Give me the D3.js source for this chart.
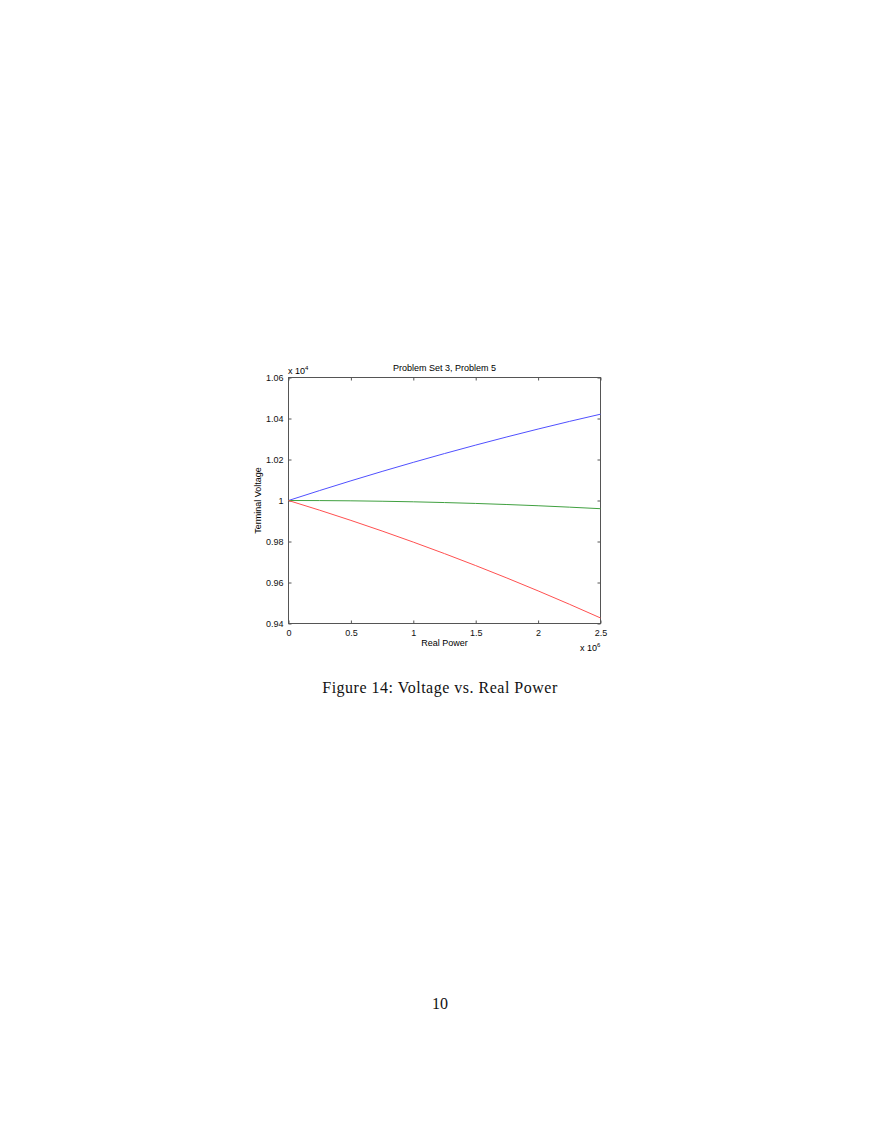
<!DOCTYPE html>
<html>
<head>
<meta charset="utf-8">
<script src="https://cdn.jsdelivr.net/npm/d3@7"></script>
<style>
body { margin: 0; background: #fff; }
svg { display: block; }
</style>
</head>
<body>
<script>
// Data (x in units of 1e6, y in units of 1e4)
const realPower = [0, 0.25, 0.5, 0.75, 1, 1.25, 1.5, 1.75, 2, 2.25, 2.5];
const blueVoltage  = [1, 1.00487, 1.0096, 1.01418, 1.01861, 1.0229, 1.02703, 1.03102, 1.03486, 1.03856, 1.0421];
const greenVoltage = [1, 0.99996, 0.99984, 0.99964, 0.99936, 0.999, 0.99856, 0.99804, 0.99744, 0.99676, 0.996];
const redVoltage   = [1, 0.99526, 0.99029, 0.98511, 0.97971, 0.97409, 0.96825, 0.96219, 0.95591, 0.94942, 0.9427];
const xTicks = [0, 0.5, 1, 1.5, 2, 2.5];
const yTicks = [0.94, 0.96, 0.98, 1, 1.02, 1.04, 1.06];
const seriesNames = ["blue", "green", "red"];
const seriesColors = ["#5050ff", "#40a040", "#ff5050"];

(function () {
const W = 880, H = 1139;
const svg = d3.select("body").append("svg").attr("width", W).attr("height", H);

const mLeft = 288.5, mRight = 600.5, mTop = 377.5, mBottom = 623.5;
const x = d3.scaleLinear().domain([0, 2.5]).range([mLeft, mRight]);
const y = d3.scaleLinear().domain([0.94, 1.06]).range([mBottom, mTop]);

const font = "'Liberation Sans', Arial, Helvetica, sans-serif";
const axisColor = "#555";

svg.append("rect").attr("x", mLeft).attr("y", mTop)
  .attr("width", mRight - mLeft).attr("height", mBottom - mTop)
  .attr("fill", "none").attr("stroke", axisColor).attr("stroke-width", 1);

const tl = 3;
function styleAxis(g) {
  g.select(".domain").remove();
  g.selectAll(".tick line").attr("stroke", axisColor);
  g.selectAll(".tick text").attr("fill", "#111").style("font-family", font).style("font-size", "9px");
}
svg.append("g").attr("transform", `translate(0,${mBottom})`)
  .call(d3.axisBottom(x).tickValues(xTicks).tickSizeInner(-tl).tickSizeOuter(0).tickPadding(6).tickFormat(d3.format("")))
  .call(styleAxis);
svg.append("g").attr("transform", `translate(0,${mTop})`)
  .call(d3.axisTop(x).tickValues(xTicks).tickSizeInner(-tl).tickSizeOuter(0).tickFormat(""))
  .call(styleAxis);
svg.append("g").attr("transform", `translate(${mLeft},0)`)
  .call(d3.axisLeft(y).tickValues(yTicks).tickSizeInner(-tl).tickSizeOuter(0).tickPadding(5).tickFormat(d => d === 1 ? "1" : d3.format(".2f")(d)))
  .call(styleAxis);
svg.append("g").attr("transform", `translate(${mRight},0)`)
  .call(d3.axisRight(y).tickValues(yTicks).tickSizeInner(-tl).tickSizeOuter(0).tickFormat(""))
  .call(styleAxis);

const series = [blueVoltage, greenVoltage, redVoltage];
const line = d3.line().x((d, i) => x(realPower[i])).y(d => y(d)).curve(d3.curveMonotoneX);
svg.append("g").selectAll("path").data(series).join("path")
  .attr("d", d => line(d))
  .attr("fill", "none")
  .attr("stroke", (d, i) => seriesColors[i])
  .attr("stroke-width", 1);

svg.append("text").attr("x", (mLeft + mRight) / 2).attr("y", 371)
  .attr("text-anchor", "middle").style("font-family", font).style("font-size", "9px")
  .text("Problem Set 3, Problem 5");

const e4 = svg.append("text").attr("x", 288).attr("y", 373.5)
  .style("font-family", font).style("font-size", "9px").text("x 10");
e4.append("tspan").attr("dy", -4).style("font-size", "6px").text("4");

svg.append("text").attr("transform", `translate(261,${(mTop + mBottom) / 2}) rotate(-90)`)
  .attr("text-anchor", "middle").style("font-family", font).style("font-size", "9px")
  .text("Terminal Voltage");

svg.append("text").attr("x", (mLeft + mRight) / 2).attr("y", 646)
  .attr("text-anchor", "middle").style("font-family", font).style("font-size", "9px")
  .text("Real Power");

const e6 = svg.append("text").attr("x", 580).attr("y", 651)
  .style("font-family", font).style("font-size", "9px").text("x 10");
e6.append("tspan").attr("dy", -4).style("font-size", "6px").text("6");

svg.append("text").attr("x", 440).attr("y", 693)
  .attr("text-anchor", "middle").style("font-family", "'Liberation Serif', 'DejaVu Serif', serif").style("font-size", "16px")
  .style("letter-spacing", "0.5px")
  .attr("fill", "#111")
  .text("Figure 14: Voltage vs. Real Power");

svg.append("text").attr("x", 440).attr("y", 1009)
  .attr("text-anchor", "middle").style("font-family", "'Liberation Serif', 'DejaVu Serif', serif").style("font-size", "16px")
  .attr("fill", "#111")
  .text("10");
})();
</script>
</body>
</html>
